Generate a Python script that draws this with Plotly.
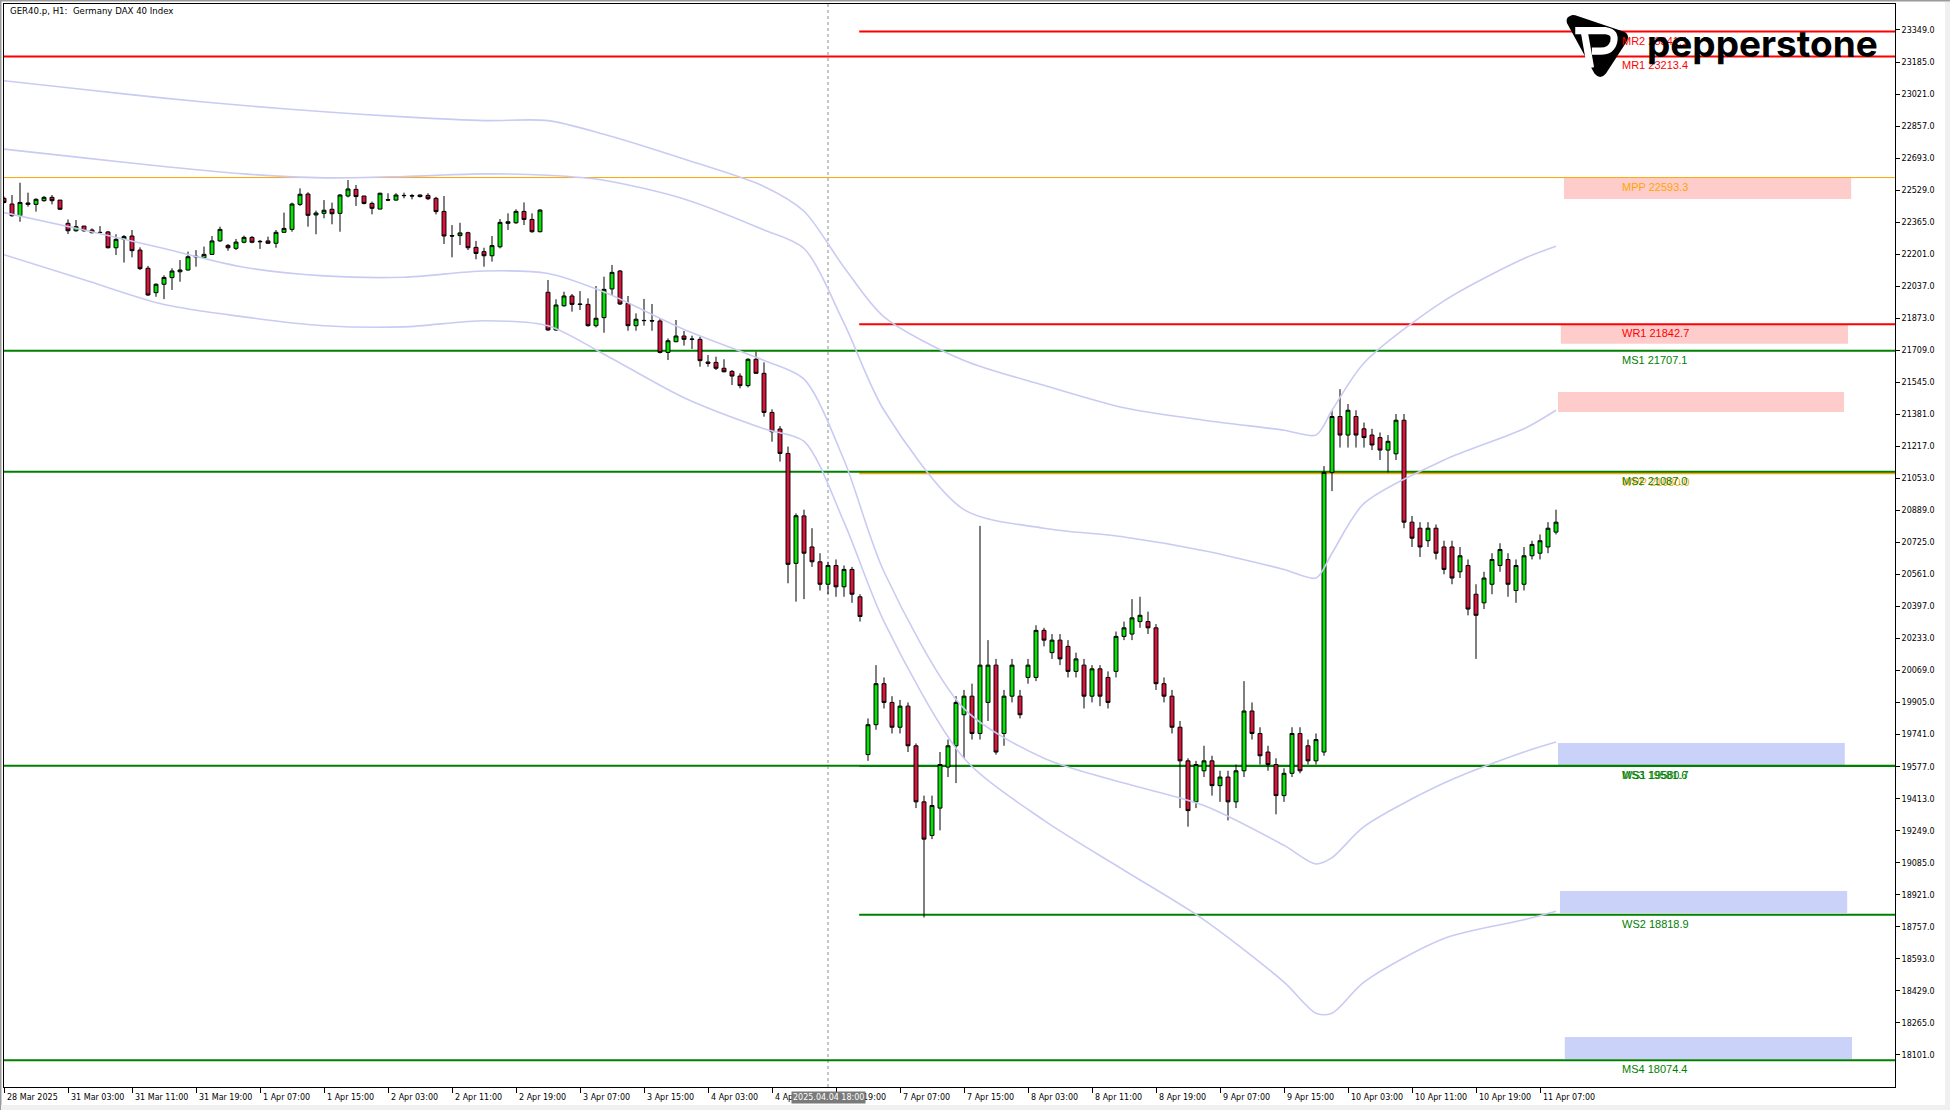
import base64
import plotly.graph_objects as go

# ---------------- data ----------------
bar_index = list(range(195))

open_ = [22487,22458,22398,22456,22456,22475,22492,22478,22359,22321,22345,22325,22313,22315,22234,22277,22294,22222,22129,22004,
         22047,22081,22111,22120,22187,22183,22200,22269,22246,22231,22262,22287,22267,22269,22257,22313,22328,22456,22509,22402,
         22410,22431,22410,22499,22533,22499,22461,22432,22480,22478,22502,22501,22504,22502,22487,22420,22296,22296,22311,22236,
         22214,22193,22239,22359,22362,22420,22379,22316,22006,21813,21937,21987,21946,21944,21835,21876,22023,22115,21949,21835,
         21862,21861,21859,21698,21753,21782,21767,21765,21649,21647,21617,21601,21577,21528,21663,21591,21391,21306,21181,20618,
         20861,20702,20626,20511,20607,20498,20587,20447,19639,19792,20002,19906,19779,19887,19684,19397,19225,19365,19575,19684,
         19843,19938,19747,19906,20097,19747,19938,19938,20034,20034,20275,20161,20225,20193,20065,20097,19938,20078,20034,20065,
         20244,20256,20320,20320,20288,20002,19938,19779,19607,19397,19556,19607,19480,19524,19397,19556,19862,19747,19652,19588,
         19429,19543,19747,19684,19607,19652,21084,21370,21275,21370,21307,21275,21262,21198,21179,21351,20829,20798,20734,20798,
         20702,20702,20575,20607,20460,20416,20511,20607,20638,20479,20511,20657,20670,20702,20778]
high_ = [22496,22504,22567,22516,22487,22499,22504,22478,22379,22376,22345,22333,22345,22320,22303,22299,22325,22236,22141,22052,
         22093,22129,22171,22214,22222,22240,22294,22342,22253,22279,22296,22294,22274,22291,22325,22414,22465,22538,22518,22424,
         22478,22465,22509,22581,22555,22499,22470,22516,22513,22513,22516,22509,22507,22513,22495,22499,22350,22362,22316,22269,
         22234,22294,22381,22410,22431,22466,22410,22431,22069,21970,22009,21997,22012,21975,22038,22086,22146,22120,21987,21898,
         21972,21946,21869,21770,21864,21808,21784,21779,21685,21676,21663,21608,21591,21668,21702,21647,21407,21321,21216,20874,
         20893,20798,20670,20626,20638,20607,20600,20460,19824,20097,20034,19938,19919,19906,19696,19429,19429,19652,19716,19938,
         19970,20002,20810,20225,20129,19970,20129,19970,20129,20301,20288,20256,20256,20225,20161,20129,20097,20097,20065,20269,
         20320,20435,20447,20371,20307,20034,19970,19811,19620,19607,19684,19633,19556,19556,19588,20015,19906,19779,19684,19620,
         19569,19779,19779,19716,19747,21116,21402,21510,21434,21402,21339,21307,21288,21275,21383,21383,20861,20829,20829,20817,
         20734,20734,20702,20638,20511,20575,20670,20721,20670,20638,20702,20734,20766,20829,20893]
low_ = [22461,22393,22367,22444,22419,22470,22456,22427,22304,22316,22316,22308,22308,22231,22197,22158,22185,22120,21987,21983,
        21971,22018,22060,22117,22137,22180,22197,22265,22219,22222,22257,22257,22228,22253,22234,22311,22316,22448,22342,22303,
        22385,22354,22316,22492,22448,22456,22405,22431,22473,22475,22487,22482,22492,22478,22405,22253,22185,22248,22222,22175,
        22137,22163,22231,22325,22356,22350,22311,22313,21809,21809,21932,21907,21915,21830,21826,21799,21992,21941,21809,21809,
        21835,21809,21693,21659,21750,21733,21716,21625,21625,21608,21596,21531,21514,21519,21591,21369,21241,21139,20516,20422,
        20435,20600,20479,20460,20447,20447,20416,20320,19607,19766,19875,19747,19747,19652,19365,18805,19206,19251,19524,19493,
        19620,19716,19716,19811,19639,19684,19906,19824,20002,20015,20193,20129,20097,20034,20034,19875,19906,19887,19875,20034,
        20225,20225,20288,20256,19970,19906,19747,19365,19270,19365,19524,19429,19397,19302,19365,19524,19716,19588,19556,19333,
        19397,19524,19543,19588,19588,19633,20988,21211,21211,21211,21211,21198,21147,21084,21147,20798,20702,20651,20702,20638,
        20562,20511,20543,20352,20129,20384,20460,20575,20447,20416,20479,20638,20638,20670,20766]
close_ = [22466,22398,22466,22463,22482,22492,22475,22431,22321,22342,22321,22311,22312,22234,22277,22291,22219,22127,21992,22047,
          22082,22115,22120,22188,22190,22200,22269,22328,22234,22263,22287,22262,22265,22257,22313,22333,22458,22508,22400,22412,
          22426,22408,22504,22535,22496,22461,22436,22513,22478,22504,22501,22499,22496,22485,22419,22294,22294,22310,22234,22205,
          22193,22245,22364,22367,22420,22379,22316,22427,21813,21941,21987,21944,21944,21835,21873,22021,22108,21946,21835,21868,
          21861,21859,21698,21758,21782,21765,21765,21656,21642,21617,21599,21577,21528,21663,21591,21391,21292,21181,20613,20862,
          20670,20626,20511,20607,20498,20587,20460,20346,19792,20002,19906,19779,19887,19684,19397,19206,19378,19588,19684,19906,
          19938,19747,20097,20097,19652,19938,20097,19843,20097,20275,20225,20225,20129,20065,20129,19938,20078,19938,19906,20244,
          20288,20339,20352,20288,20002,19938,19779,19607,19352,19588,19607,19480,19524,19397,19556,19862,19747,19633,19588,19429,
          19543,19747,19556,19607,19716,21084,21370,21275,21402,21275,21262,21224,21198,21243,21351,20829,20747,20702,20798,20670,
          20587,20543,20657,20384,20352,20543,20638,20689,20511,20607,20657,20715,20734,20798,20829]

# Bollinger-style envelope lines read at sample bars
band_bars = [0, 10, 20, 30, 40, 50, 60, 68, 75, 85, 95, 100, 105, 110, 120, 130, 140, 150, 160, 164, 166, 170, 180, 190, 194]
band_outer_upper = [23089,23044,23000,22962,22930,22904,22885,22885,22815,22688,22548,22421,22134,21880,21657,21530,21415,21351,21300,21275,21402,21644,21962,22179,22242]
band_inner_upper = [22739,22694,22650,22612,22592,22599,22612,22605,22580,22484,22325,22230,21848,21402,20893,20798,20753,20683,20587,20543,20670,20925,21147,21307,21402]
band_inner_lower = [22414,22325,22230,22134,22090,22083,22115,22102,22007,21816,21657,21561,21147,20575,19874,19620,19493,19378,19174,19079,19111,19270,19493,19652,19703]
band_outer_lower = [22198,22070,21943,21880,21835,21829,21860,21835,21689,21466,21307,21243,20829,20320,19620,19302,19047,18793,18474,18315,18315,18474,18697,18793,18837]

# pivot levels
level_names = ["MR2", "MR1", "MPP", "WR1", "MS1", "MS2", "WPP", "MS3", "WS1", "WS2", "MS4"]
level_values = [23341.1, 23213.4, 22593.3, 21842.7, 21707.1, 21087.0, 21080.0, 19581.6, 19580.7, 18818.9, 18074.4]

# supply / demand zones (price bottom, price top)
zone_kind = ["supply", "supply", "supply", "demand", "demand", "demand"]
zone_low = [22484, 21742, 21393, 19586, 18828, 18080]
zone_high = [22593, 21844, 21496, 19698, 18941, 18193]

# axis ticks
ytick_values = [23349 - 164 * k for k in range(33)]
xtick_bars = list(range(0, 193, 8))
xtick_labels = ["28 Mar 2025", "31 Mar 03:00", "31 Mar 11:00", "31 Mar 19:00", "1 Apr 07:00", "1 Apr 15:00",
                "2 Apr 03:00", "2 Apr 11:00", "2 Apr 19:00", "3 Apr 07:00", "3 Apr 15:00", "4 Apr 03:00",
                "4 Apr 11:00", "4 Apr 19:00", "7 Apr 07:00", "7 Apr 15:00", "8 Apr 03:00", "8 Apr 11:00",
                "8 Apr 19:00", "9 Apr 07:00", "9 Apr 15:00", "10 Apr 03:00", "10 Apr 11:00", "10 Apr 19:00",
                "11 Apr 07:00"]

title_text = "GER40.p, H1:  Germany DAX 40 Index"
cursor_bar = 103
cursor_text = "2025.04.04 18:00"

# ---------------- layout constants ----------------
W, H = 1950, 1110
L, R, T, B = 4, 55, 4, 23
PW, PH = W - L - R, H - T - B
X_RANGE = [0, 236.375]
Y_RANGE = [17937, 23482]


def px_x(px):
    return (px - L) / PW


def px_y(py):
    return 1 - (py - T) / PH


fig = go.Figure()

band_color = "#C9CBF3"
for vals in (band_outer_upper, band_inner_upper, band_inner_lower, band_outer_lower):
    fig.add_trace(go.Scatter(x=band_bars, y=vals, mode="lines", line=dict(color=band_color, width=1.6, shape="spline", smoothing=0.8),
                             showlegend=False, hoverinfo="skip"))

fig.add_trace(go.Candlestick(
    x=bar_index, open=open_, high=high_, low=low_, close=close_,
    increasing=dict(fillcolor="#00E600", line=dict(color="black", width=1)),
    decreasing=dict(fillcolor="#DC143C", line=dict(color="black", width=1)),
    whiskerwidth=0, showlegend=False, hoverinfo="skip"))

shapes = []
# zones
zone_x = [(195.0, 230.9), (194.6, 230.5), (194.25, 230.0), (194.25, 230.1), (194.5, 230.4), (195.1, 231.0)]
for kind, lo, hi, (x0, x1) in zip(zone_kind, zone_low, zone_high, zone_x):
    shapes.append(dict(type="rect", xref="x", yref="y", x0=x0, x1=x1, y0=lo, y1=hi,
                       fillcolor="#FFCCCC" if kind == "supply" else "#CAD2FA", line=dict(width=0), layer="below"))

weekly_start = 106.9
level_style = {
    "MR2": ("#FF0000", 2, weekly_start), "MR1": ("#FF0000", 2, 0),
    "MPP": ("#FFA500", 1, 0), "WR1": ("#FF0000", 2, weekly_start),
    "MS1": ("#008000", 2, 0), "MS2": ("#008000", 2, 0),
    "WPP": ("#FFA500", 2, weekly_start), "MS3": ("#008000", 2, 0),
    "WS1": ("#008000", 2, weekly_start), "WS2": ("#008000", 2, weekly_start),
    "MS4": ("#008000", 2, 0),
}
draw_order = ["MR2", "MR1", "MPP", "WR1", "MS1", "WPP", "MS2", "MS3", "WS1", "WS2", "MS4"]
for name in draw_order:
    v = level_values[level_names.index(name)]
    col, w, x0 = level_style[name]
    shapes.append(dict(type="line", xref="x", yref="y", x0=x0, x1=X_RANGE[1], y0=v, y1=v,
                       line=dict(color=col, width=w), layer="below"))

# cursor line
shapes.append(dict(type="line", xref="x", yref="paper", x0=cursor_bar, x1=cursor_bar, y0=0, y1=1,
                   line=dict(color="#8C8C8C", width=1, dash="dot"), layer="below"))

# window border
shapes.append(dict(type="line", xref="paper", yref="paper", x0=px_x(0), x1=px_x(W), y0=px_y(0.5), y1=px_y(0.5),
                   line=dict(color="#9A9A9A", width=2)))
shapes.append(dict(type="line", xref="paper", yref="paper", x0=px_x(0.5), x1=px_x(0.5), y0=px_y(0), y1=px_y(H),
                   line=dict(color="#9A9A9A", width=2)))
shapes.append(dict(type="rect", xref="paper", yref="paper", x0=px_x(1945), x1=px_x(W), y0=px_y(H), y1=px_y(2),
                   fillcolor="#F0F0F0", line=dict(width=0)))
shapes.append(dict(type="rect", xref="paper", yref="paper", x0=px_x(1), x1=px_x(W), y0=px_y(H), y1=px_y(1105),
                   fillcolor="#F0F0F0", line=dict(width=0)))

annotations = []
annotations.append(dict(text=title_text, xref="paper", yref="paper", x=px_x(8), y=px_y(11), xanchor="left", yanchor="middle",
                        showarrow=False, font=dict(family="DejaVu Sans", size=8.6, color="black")))

label_colors = {"MR2": "#FF0000", "MR1": "#FF0000", "MPP": "#FFA500", "WR1": "#FF0000", "WPP": "#FFA500",
                "MS1": "#008000", "MS2": "#008000", "MS3": "#008000", "WS1": "#008000", "WS2": "#008000", "MS4": "#008000"}
for name in draw_order:
    v = level_values[level_names.index(name)]
    annotations.append(dict(text=f"{name} {v:.1f}", xref="x", yref="y", x=202, y=v, xanchor="left", yanchor="top",
                            yshift=-1, showarrow=False,
                            font=dict(family="Liberation Sans, Arial", size=11, color=label_colors[name])))

for b, lab in zip(xtick_bars, xtick_labels):
    annotations.append(dict(text=lab, xref="x", yref="paper", x=b, y=0, xanchor="left", yanchor="top",
                            xshift=1, yshift=-4, showarrow=False,
                            font=dict(family="DejaVu Sans", size=8, color="black")))

annotations.append(dict(text=cursor_text, xref="x", yref="paper", x=cursor_bar, y=0, xanchor="center", yanchor="top",
                        yshift=-4, showarrow=False, bgcolor="#7A7A7A", borderpad=1,
                        font=dict(family="DejaVu Sans", size=8, color="white")))

annotations.append(dict(text="pepperstone", xref="paper", yref="paper", x=px_x(1645), y=px_y(44), xanchor="left",
                        yanchor="middle", showarrow=False,
                        font=dict(family="Inter", size=37, color="black", weight=700)))

logo_svg = ('<svg xmlns="http://www.w3.org/2000/svg" viewBox="0 0 100 100">'
            '<path d="M8,3 Q1,5 3,14 L46,93 Q55,104 64,93 L97,42 Q102,31 90,27 L16,2 Q11,1 8,3 Z" fill="black"/>'
            '<path d="M16,26 L64,26 Q80,28 76,44 Q72,58 56,58 L42,58" stroke="white" stroke-width="11" fill="none"/>'
            '<path d="M30,27 L40,84" stroke="white" stroke-width="11" fill="none"/>'
            '</svg>')
logo_src = "data:image/svg+xml;base64," + base64.b64encode(logo_svg.encode()).decode()

fig.update_layout(
    width=W, height=H,
    margin=dict(l=L, r=R, t=T, b=B),
    paper_bgcolor="white", plot_bgcolor="white",
    shapes=shapes, annotations=annotations,
    images=[dict(source=logo_src, xref="paper", yref="paper", x=px_x(1565), y=px_y(14), sizex=64 / PW, sizey=64 / PH,
                 xanchor="left", yanchor="top", sizing="stretch", layer="above")],
    xaxis=dict(range=X_RANGE, type="linear", rangeslider=dict(visible=False), showgrid=False, zeroline=False,
               showline=True, linecolor="black", linewidth=1, mirror=True,
               tickvals=xtick_bars, ticktext=[""] * len(xtick_bars), ticks="outside", ticklen=5, tickcolor="black"),
    yaxis=dict(range=Y_RANGE, side="right", showgrid=False, zeroline=False,
               showline=True, linecolor="black", linewidth=1, mirror=True,
               tickvals=ytick_values, ticktext=[f"{v:.1f}" for v in ytick_values], ticks="outside", ticklen=4,
               tickcolor="black", tickfont=dict(family="DejaVu Sans", size=8, color="black")),
    showlegend=False,
)

# remove the browser's default page margin so the figure sits at the window's top-left corner
fig.write_html("out.html", config={"displayModeBar": False},
               post_script="document.body.style.margin='0px';document.body.style.overflow='hidden';")
